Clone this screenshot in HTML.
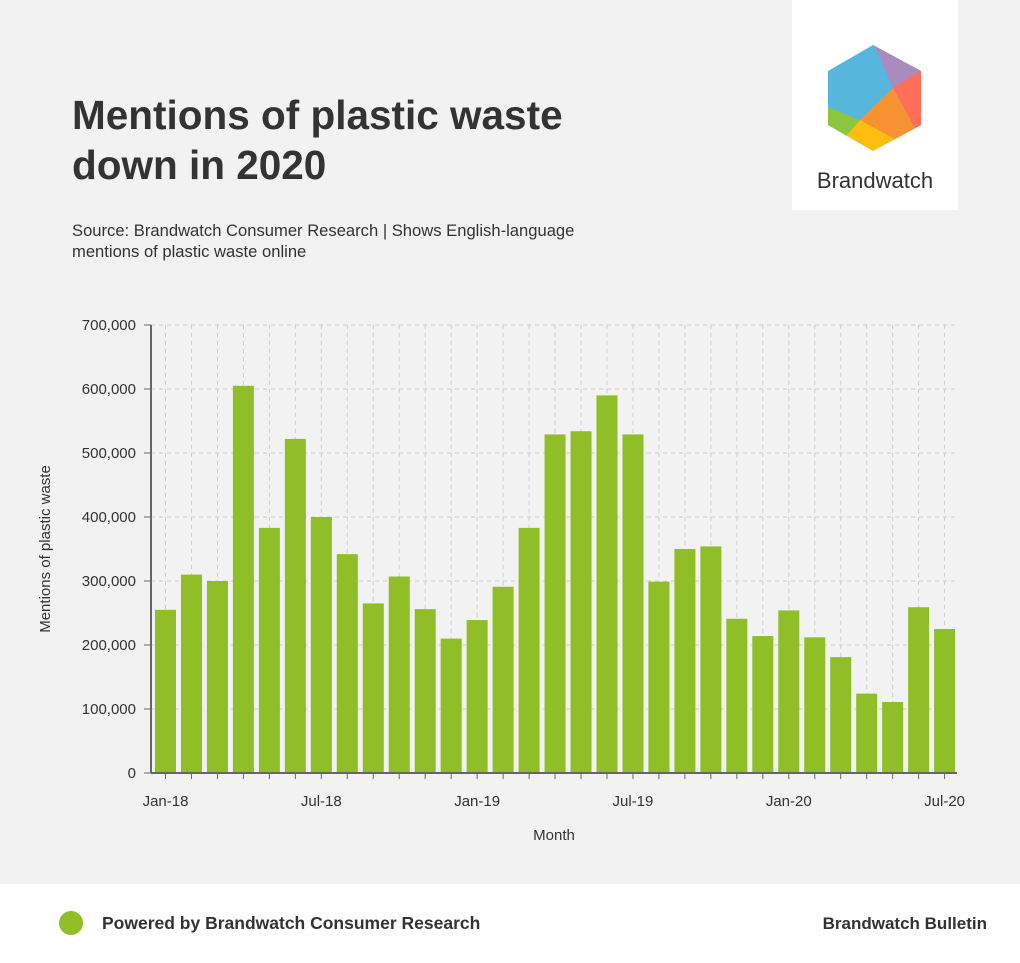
<!DOCTYPE html>
<html><head><meta charset="utf-8"><style>
body{margin:0;width:1020px;height:963px;background:#f2f2f2;font-family:"Liberation Sans",sans-serif;position:relative;overflow:hidden}
</style></head><body>
<svg width="1020" height="963" style="position:absolute;left:0;top:0" font-family="Liberation Sans, sans-serif">
<rect x="792" y="0" width="166" height="210" fill="#fff"/>
<clipPath id="hx"><polygon points="873,45 921,71 921,125 873,151 828,125 828,71"/></clipPath>
<g clip-path="url(#hx)">
<rect x="820" y="40" width="110" height="120" fill="#57b6dc"/>
<polygon points="872,40 935,40 935,62 893,88" fill="#a98bbd"/>
<polygon points="893,88 935,62 935,130 916,130" fill="#ff6f57"/>
<polygon points="893,88 916,130 898,141 860,120" fill="#f79232"/>
<polygon points="860,120 898,141 880,160 845,137" fill="#fdbe10"/>
<polygon points="820,104 860,120 845,137 820,128" fill="#8cc63e"/>
</g>
<text x="875" y="188" font-size="22" fill="#333" text-anchor="middle">Brandwatch</text>
<text x="72" y="129" font-size="40.5" font-weight="bold" fill="#333">Mentions of plastic waste</text>
<text x="72" y="179" font-size="40.5" font-weight="bold" fill="#333">down in 2020</text>
<text x="72" y="236" font-size="16.6" fill="#333">Source: Brandwatch Consumer Research | Shows English-language</text>
<text x="72" y="257" font-size="16.6" fill="#333">mentions of plastic waste online</text>
<g id="g"></g>
<text x="554" y="840" font-size="15" fill="#333" text-anchor="middle">Month</text>
<text transform="translate(50,549) rotate(-90)" font-size="15" fill="#333" text-anchor="middle">Mentions of plastic waste</text>
<rect x="0" y="884" width="1020" height="79" fill="#fff"/>
<circle cx="71" cy="923" r="12" fill="#8fbe26"/>
<text x="102" y="929" font-size="17.5" font-weight="bold" fill="#333">Powered by Brandwatch Consumer Research</text>
<text x="987" y="929" font-size="17" font-weight="bold" fill="#333" text-anchor="end">Brandwatch Bulletin</text>
</svg>
<script>
var v=[255,310,300,605,383,522,400,342,265,307,256,210,239,291,383,529,534,590,529,299,350,354,241,214,254,212,181,124,111,259,225];
var s='';
for(var i=0;i<=7;i++){var y=773-i*64;if(i>0)s+='<line x1="151" x2="957" y1="'+y+'" y2="'+y+'" stroke="#ccc" stroke-dasharray="4,4"/>';
s+='<line x1="144" x2="151" y1="'+y+'" y2="'+y+'" stroke="#666"/>';
s+='<text x="136" y="'+(y+5)+'" font-size="15" fill="#333" text-anchor="end">'+(i?(i*100)+',000':'0')+'</text>';}
for(var j=0;j<31;j++){var c=165.5+j*25.97;s+='<line x1="'+c+'" x2="'+c+'" y1="325" y2="773" stroke="#ccc" stroke-dasharray="4,4"/>';}
for(var j=0;j<31;j++){var c=165.5+j*25.97,h=v[j]*0.64;s+='<rect x="'+(c-10.5)+'" y="'+(773-h)+'" width="21" height="'+h+'" fill="#8fbe26"/>';
s+='<line x1="'+c+'" x2="'+c+'" y1="773" y2="779" stroke="#666"/>';}
s+='<line x1="151" x2="151" y1="325" y2="773" stroke="#666" stroke-width="2"/><line x1="151" x2="957" y1="773" y2="773" stroke="#666" stroke-width="2"/>';
var L=['Jan-18','Jul-18','Jan-19','Jul-19','Jan-20','Jul-20'];
for(var k=0;k<6;k++){var c=165.5+k*6*25.97;s+='<text x="'+c+'" y="806" font-size="15" fill="#333" text-anchor="middle">'+L[k]+'</text>';}
document.getElementById('g').innerHTML=s;
</script>
</body></html>
